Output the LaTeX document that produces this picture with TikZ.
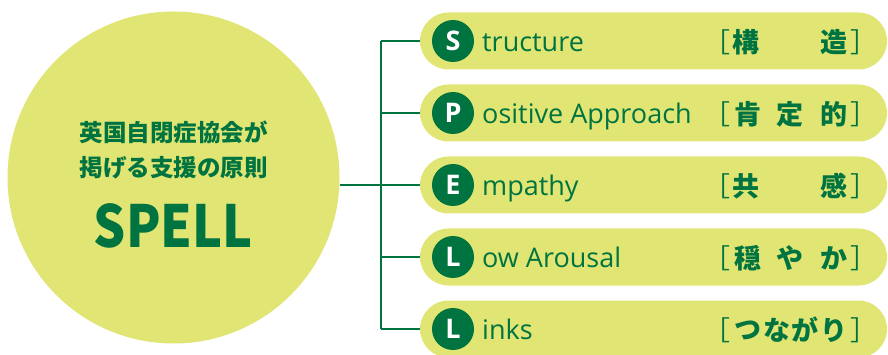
\documentclass[tikz,border=0pt]{standalone}
\usepackage{fontspec}
\setmainfont{Open Sans}
\newfontfamily\jp{Noto Sans CJK JP}
\definecolor{lightg}{RGB}{224,229,116}
\definecolor{darkg}{RGB}{0,116,64}
\begin{document}
\begin{tikzpicture}[x=1pt,y=-1pt,
  letterdot/.style={circle, fill=darkg, minimum size=42pt, inner sep=0pt, text=white, font=\bfseries\fontsize{27}{27}\selectfont},
  label/.style={anchor=base west, text=darkg, inner sep=0pt, font=\fontsize{27}{27}\selectfont},
  jpc/.style={text=darkg, inner sep=0pt, font=\jp\bfseries\fontsize{27}{27}\selectfont},
  brk/.style={text=darkg, inner sep=0pt, font=\jp\fontsize{27}{27}\selectfont},
  conn/.style={draw=darkg, line width=2.5pt}]
\useasboundingbox (0,0) rectangle (888,355);
% main circle
\node[circle, fill=lightg, minimum size=332pt, inner sep=0pt] (main) at (173.5,177.5) {};
\node[text=darkg, font=\jp\bfseries\fontsize{23.5}{23.5}\selectfont, inner sep=0pt] (t1) at (173.5,132) {英国自閉症協会が};
\node[text=darkg, font=\jp\bfseries\fontsize{23.5}{23.5}\selectfont, inner sep=0pt] (t2) at (173.5,168) {掲げる支援の原則};
\node[text=darkg, font=\jp\bfseries\fontsize{58}{58}\selectfont, inner sep=0pt] (t3) at (173.5,226) {\scalebox{0.87}[1]{SPELL}};
% trunk
\coordinate (j) at (381,185);
\coordinate (top) at (381,41);
\coordinate (bot) at (381,329);
\draw[conn] (j -| main.east) -- (j);
\draw[conn] (top) -- (bot);
% rows
\foreach \i/\yy/\L/\rest in {1/41/S/tructure, 2/113/P/ositive Approach, 3/185/E/mpathy, 4/257/L/ow Arousal, 5/329/L/inks}{
  \fill[lightg, rounded corners=28.5pt] (420,\yy-28.5) rectangle (887,\yy+28.5);
  \coordinate (p\i) at (420,\yy);
  \node[letterdot] (d\i) at (453,\yy) {\L};
  \node[label] (l\i) at (482,\yy+10.5) {\rest};
  \draw[conn] (381,\yy) -- (p\i);
  \node[brk] (lb\i) at (717,\yy+1) {［};
  \node[brk] (rb\i) at (864,\yy+1) {］};
}
% Japanese terms
\node[jpc] at (746,42) {構};
\node[jpc] at (834,42) {造};
\node[jpc] at (748,114) {肯};
\node[jpc] at (790,114) {定};
\node[jpc] at (834,114) {的};
\node[jpc] at (746,186) {共};
\node[jpc] at (834,186) {感};
\node[jpc] at (748,258) {穏};
\node[jpc] at (790,258) {や};
\node[jpc] at (834,258) {か};
\node[jpc] at (748,330) {つ};
\node[jpc] at (777,330) {な};
\node[jpc] at (805,330) {が};
\node[jpc] at (834,330) {り};
\end{tikzpicture}
\end{document}
